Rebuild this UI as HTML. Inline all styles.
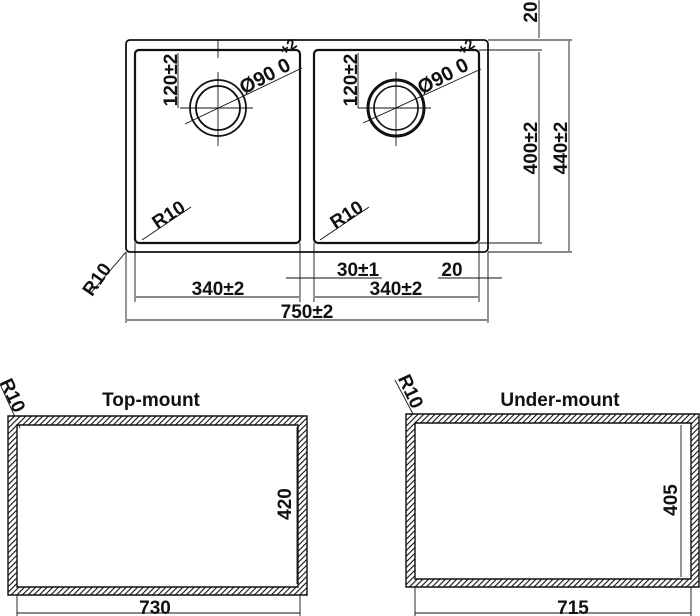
<!DOCTYPE html>
<html><head><style>html,body{margin:0;padding:0;background:#fff}svg{display:block}text{font-family:"Liberation Sans",Arial,sans-serif;font-weight:bold;fill:#111}</style></head>
<body>
<svg width="700" height="616" viewBox="0 0 700 616" xmlns="http://www.w3.org/2000/svg">
<defs>
<pattern id="h" patternUnits="userSpaceOnUse" width="4" height="4" patternTransform="rotate(45)">
<rect width="4" height="4" fill="#fff"/><line x1="0" y1="0" x2="0" y2="4" stroke="#111" stroke-width="2.2"/>
</pattern>
</defs>
<g fill="none" stroke="#111">
<rect x="126" y="40" width="362" height="212" rx="4" stroke-width="1.8"/>
<rect x="135" y="50" width="165" height="193" rx="4" stroke-width="2.2"/>
<rect x="314" y="50" width="165" height="193" rx="4" stroke-width="2.2"/>
<circle cx="218" cy="108" r="28" stroke-width="1.8"/>
<circle cx="218" cy="108" r="22" stroke-width="1.8"/>
<circle cx="396" cy="108" r="28" stroke-width="3"/>
<circle cx="396" cy="108" r="22" stroke-width="1.6"/>
<g stroke-width="0.9">
<line x1="218" y1="72" x2="218" y2="146"/><line x1="180" y1="108" x2="253" y2="108"/>
<line x1="396" y1="72" x2="396" y2="146"/><line x1="358" y1="108" x2="431" y2="108"/>
<line x1="185" y1="124" x2="302" y2="68"/><line x1="363" y1="123" x2="481" y2="69"/>
<line x1="218" y1="40" x2="218" y2="58"/>
<line x1="178" y1="53" x2="178" y2="108"/><line x1="358" y1="53" x2="358" y2="108"/>
<line x1="142" y1="240" x2="191" y2="207"/><line x1="320" y1="240" x2="369" y2="207"/>
<line x1="126" y1="252" x2="90" y2="294"/>
<line x1="135" y1="243" x2="135" y2="302"/><line x1="300" y1="243" x2="300" y2="302"/>
<line x1="314" y1="243" x2="314" y2="302"/><line x1="479" y1="243" x2="479" y2="302"/>
<line x1="126" y1="252" x2="126" y2="323"/><line x1="488" y1="252" x2="488" y2="323"/>
<line x1="136" y1="297" x2="299" y2="297"/><line x1="315" y1="297" x2="478" y2="297"/>
<line x1="127" y1="320" x2="487" y2="320"/>
<line x1="286" y1="278" x2="382" y2="278"/><line x1="438" y1="278" x2="502" y2="278"/>
<line x1="488" y1="40" x2="572" y2="40"/><line x1="479" y1="50" x2="542" y2="50"/>
<line x1="479" y1="243" x2="542" y2="243"/><line x1="488" y1="252" x2="572" y2="252"/>
<line x1="539" y1="0" x2="539" y2="38"/><line x1="539" y1="52" x2="539" y2="242"/>
<line x1="569" y1="41" x2="569" y2="251"/>
<line x1="297" y1="427" x2="297" y2="584"/>
<line x1="17" y1="595" x2="17" y2="616"/><line x1="300" y1="595" x2="300" y2="616"/>
<line x1="17" y1="613" x2="300" y2="613"/>
<line x1="681" y1="425" x2="681" y2="577"/>
<line x1="415" y1="587" x2="415" y2="616"/><line x1="691" y1="587" x2="691" y2="616"/>
<line x1="415" y1="613" x2="691" y2="613"/>
<line x1="0" y1="384" x2="20" y2="428"/><line x1="395" y1="380" x2="413" y2="414"/>
</g>
</g>
<path fill-rule="evenodd" fill="url(#h)" stroke="#111" stroke-width="1.4" d="M8 416H307V595H8Z M17 425H298V587H17Z"/>
<path fill-rule="evenodd" fill="url(#h)" stroke="#111" stroke-width="1.4" d="M406 414H699V587H406Z M415 423H691V579H415Z"/>
<g font-size="19">
<text x="218" y="295" text-anchor="middle">340±2</text>
<text x="396" y="295" text-anchor="middle">340±2</text>
<text x="307" y="318" text-anchor="middle">750±2</text>
<text x="358" y="276" text-anchor="middle">30±1</text>
<text x="452" y="276" text-anchor="middle">20</text>
<text transform="translate(177,80) rotate(-90)" text-anchor="middle">120±2</text>
<text transform="translate(357,80) rotate(-90)" text-anchor="middle">120±2</text>
<text transform="translate(537,148) rotate(-90)" text-anchor="middle">400±2</text>
<text transform="translate(567,148) rotate(-90)" text-anchor="middle">440±2</text>
<text transform="translate(537,12) rotate(-90)" text-anchor="middle">20</text>
<text transform="translate(268,82) rotate(-28)" text-anchor="middle" font-size="20">Ø90 0</text>
<text transform="translate(446,82) rotate(-28)" text-anchor="middle" font-size="20">Ø90 0</text>
<text transform="translate(284,56) rotate(-35)" font-size="15">+2</text>
<text transform="translate(462,56) rotate(-35)" font-size="15">+2</text>
<text transform="translate(172,220) rotate(-33)" text-anchor="middle">R10</text>
<text transform="translate(350,220) rotate(-33)" text-anchor="middle">R10</text>
<text transform="translate(102,283) rotate(-55)" text-anchor="middle">R10</text>
<text transform="translate(7,398) rotate(65)" text-anchor="middle">R10</text>
<text transform="translate(405,394) rotate(65)" text-anchor="middle">R10</text>
<text x="151" y="406" text-anchor="middle">Top-mount</text>
<text x="560" y="406" text-anchor="middle">Under-mount</text>
<text transform="translate(291,504) rotate(-90)" text-anchor="middle">420</text>
<text transform="translate(677,500) rotate(-90)" text-anchor="middle">405</text>
<text x="155" y="614" text-anchor="middle">730</text>
<text x="573" y="614" text-anchor="middle">715</text>
</g>
</svg>
</body></html>
